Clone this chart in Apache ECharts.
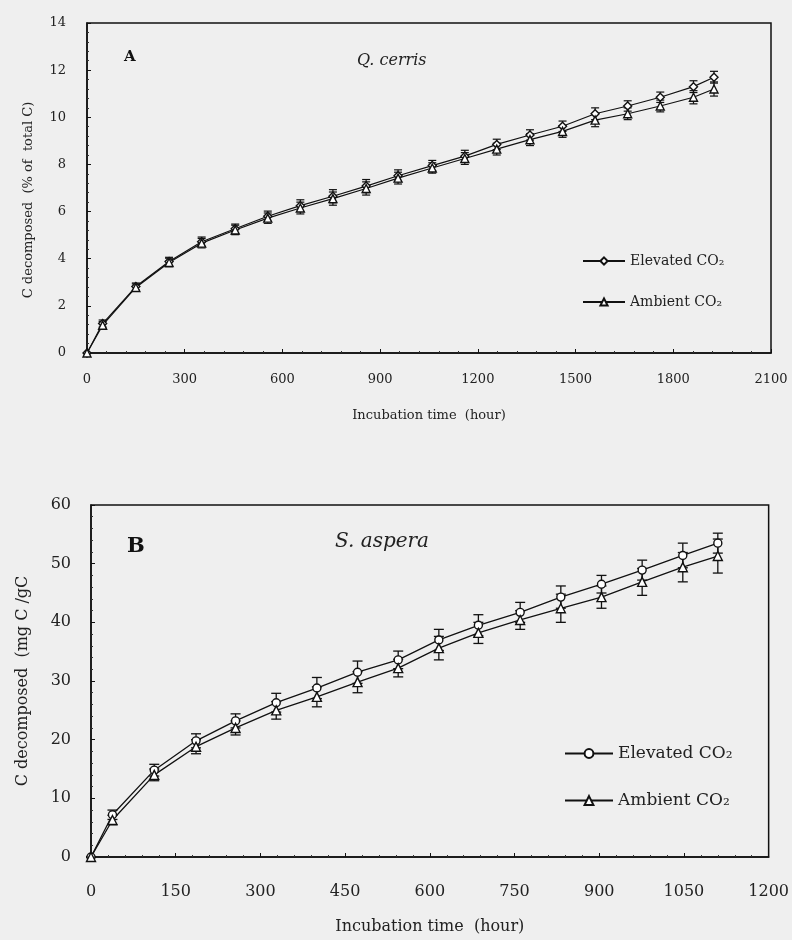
<!DOCTYPE html>
<html>
<head>
<meta charset="utf-8">
<script src="https://cdn.jsdelivr.net/npm/echarts@6/dist/echarts.min.js"></script>
<style>
html,body{margin:0;padding:0;background:#efefef;}
#a{width:792px;height:470px;}
#b{width:792px;height:470px;}
</style>
</head>
<body>
<div id="a"></div>
<div id="b"></div>
<script>
// Panel A: Q. cerris
const timesA = [0,48,150,252,352,455,555,655,755,857,955,1060,1160,1258,1360,1460,1560,1660,1760,1862,1925];
const elevA  = [0,1.25,2.82,3.88,4.72,5.27,5.8,6.25,6.65,7.08,7.52,7.95,8.35,8.85,9.25,9.62,10.15,10.48,10.85,11.3,11.7];
const ambA   = [0,1.18,2.78,3.84,4.66,5.22,5.72,6.15,6.55,6.98,7.42,7.85,8.25,8.65,9.05,9.4,9.88,10.15,10.48,10.85,11.2];
const errElevA = [0,0.15,0.15,0.18,0.2,0.2,0.22,0.25,0.28,0.28,0.25,0.22,0.25,0.22,0.22,0.22,0.25,0.22,0.22,0.25,0.25];
const errAmbA  = [0,0.15,0.15,0.18,0.2,0.2,0.22,0.25,0.28,0.28,0.25,0.22,0.25,0.25,0.25,0.25,0.28,0.25,0.25,0.28,0.3];
const xTicksA = {min:0, max:2100, interval:300};
const yTicksA = {min:0, max:14, interval:2};

// Panel B: S. aspera
const timesB = [0,38,112,186,256,328,400,472,544,616,686,760,832,904,976,1048,1110];
const elevB  = [0,7.2,14.8,19.8,23.2,26.3,28.8,31.5,33.6,37.0,39.5,41.7,44.3,46.5,48.9,51.4,53.5];
const ambB   = [0,6.3,14.0,18.8,22.0,25.0,27.3,29.8,32.2,35.6,38.2,40.4,42.4,44.3,46.9,49.4,51.3];
const errElevB = [0,0.8,1.0,1.2,1.2,1.6,1.8,1.9,1.5,1.8,1.8,1.7,1.9,1.5,1.7,2.1,1.7];
const errAmbB  = [0,0.8,1.0,1.2,1.2,1.5,1.7,1.8,1.5,2.0,1.8,1.6,2.4,1.9,2.3,2.5,2.9];
const xTicksB = {min:0, max:1200, interval:150};
const yTicksB = {min:0, max:60, interval:10};

const seriesNames = ['Elevated CO₂','Ambient CO₂'];
const FONT = 'DejaVu Serif';

function pairs(t, v){ return t.map((x,i)=>[x, v[i]]); }
function errData(t, v, e){ return t.map((x,i)=>[x, v[i]-e[i], v[i]+e[i]]); }
function errSeries(data, cap, lw){
  return {
    type:'custom', silent:true, z:1,
    renderItem:function(params, api){
      const x = api.value(0), lo = api.value(1), hi = api.value(2);
      const p1 = api.coord([x, lo]), p2 = api.coord([x, hi]);
      const st = {stroke:'#111', lineWidth:lw};
      return {type:'group', children:[
        {type:'line', shape:{x1:p1[0],y1:p1[1],x2:p2[0],y2:p2[1]}, style:st},
        {type:'line', shape:{x1:p1[0]-cap,y1:p1[1],x2:p1[0]+cap,y2:p1[1]}, style:st},
        {type:'line', shape:{x1:p2[0]-cap,y1:p2[1],x2:p2[0]+cap,y2:p2[1]}, style:st}
      ]};
    },
    encode:{x:0, y:[1,2]},
    data:data
  };
}

function axisCommon(fs, margin){
  return {
    axisLine:{show:true, lineStyle:{color:'#111', width:1.5}},
    axisTick:{show:true, inside:true, length:4, lineStyle:{color:'#111'}},
    minorTick:{show:true, splitNumber:5, length:2, lineStyle:{color:'#333'}},
    splitLine:{show:false},
    axisLabel:{color:'#222', fontFamily:FONT, fontSize:fs, margin:margin, formatter:function(v){return String(v);}}
  };
}

// Chart A
const chartA = echarts.init(document.getElementById('a'), null, {renderer:'canvas'});
chartA.setOption({
  animation:false,
  backgroundColor:'#efefef',
  grid:{left:87, right:21, top:23, bottom:117, show:true, borderColor:'#111', borderWidth:1.5, backgroundColor:'transparent'},
  xAxis:Object.assign(axisCommon(13, 20), {type:'value', min:xTicksA.min, max:xTicksA.max, interval:xTicksA.interval,
    name:'Incubation time  (hour)', nameLocation:'middle', nameGap:56,
    nameTextStyle:{fontFamily:FONT, fontSize:13, color:'#222'}}),
  yAxis:Object.assign(axisCommon(13, 21), {type:'value', min:yTicksA.min, max:yTicksA.max, interval:yTicksA.interval,
    name:'C decomposed  (% of  total C)', nameLocation:'middle', nameGap:52,
    nameTextStyle:{fontFamily:FONT, fontSize:13, color:'#222', padding:[0,0,0,-24]}}),
  legend:{orient:'vertical', left:577, top:249, itemWidth:42, itemHeight:9, itemGap:27,
    textStyle:{fontFamily:FONT, fontSize:14, color:'#222'}, data:seriesNames},
  graphic:[
    {type:'text', left:124, top:50, style:{text:'A', font:'bold 15px "DejaVu Serif"', fill:'#111'}},
    {type:'text', left:357, top:53, style:{text:'Q. cerris', font:'italic 16px "DejaVu Serif"', fill:'#222'}}
  ],
  series:[
    errSeries(errData(timesA, elevA, errElevA), 4, 1.2),
    errSeries(errData(timesA, ambA, errAmbA), 4, 1.2),
    {name:seriesNames[0], type:'line', z:3, data:pairs(timesA, elevA), symbol:'diamond', symbolSize:8,
      lineStyle:{color:'#111', width:1.2}, itemStyle:{color:'#fff', borderColor:'#111', borderWidth:1.4}},
    {name:seriesNames[1], type:'line', z:3, data:pairs(timesA, ambA), symbol:'triangle', symbolSize:8,
      lineStyle:{color:'#111', width:1.2}, itemStyle:{color:'#fff', borderColor:'#111', borderWidth:1.4}}
  ]
});

// Chart B
const chartB = echarts.init(document.getElementById('b'), null, {renderer:'canvas'});
chartB.setOption({
  animation:false,
  backgroundColor:'#efefef',
  grid:{left:91, right:22, top:35, bottom:83, show:true, borderColor:'#111', borderWidth:1.5, backgroundColor:'transparent'},
  xAxis:Object.assign(axisCommon(16, 27), {type:'value', min:xTicksB.min, max:xTicksB.max, interval:xTicksB.interval,
    name:'Incubation time  (hour)', nameLocation:'middle', nameGap:62,
    nameTextStyle:{fontFamily:FONT, fontSize:16, color:'#222'}}),
  yAxis:Object.assign(axisCommon(16, 20), {type:'value', min:yTicksB.min, max:yTicksB.max, interval:yTicksB.interval,
    name:'C decomposed  (mg C /gC', nameLocation:'middle', nameGap:60,
    nameTextStyle:{fontFamily:FONT, fontSize:16, color:'#222'}}),
  legend:{orient:'vertical', left:559, top:270, itemWidth:48, itemHeight:11, itemGap:30,
    textStyle:{fontFamily:FONT, fontSize:17, color:'#222'}, data:seriesNames},
  graphic:[
    {type:'text', left:127, top:66, style:{text:'B', font:'bold 21px "DejaVu Serif"', fill:'#111'}},
    {type:'text', left:335, top:62, style:{text:'S. aspera', font:'italic 20px "DejaVu Serif"', fill:'#222'}}
  ],
  series:[
    errSeries(errData(timesB, elevB, errElevB), 5, 1.3),
    errSeries(errData(timesB, ambB, errAmbB), 5, 1.3),
    {name:seriesNames[0], type:'line', z:3, data:pairs(timesB, elevB), symbol:'circle', symbolSize:8,
      lineStyle:{color:'#111', width:1.3}, itemStyle:{color:'#fff', borderColor:'#111', borderWidth:1.4}},
    {name:seriesNames[1], type:'line', z:3, data:pairs(timesB, ambB), symbol:'triangle', symbolSize:9,
      lineStyle:{color:'#111', width:1.3}, itemStyle:{color:'#fff', borderColor:'#111', borderWidth:1.4}}
  ]
});
</script>
</body>
</html>
